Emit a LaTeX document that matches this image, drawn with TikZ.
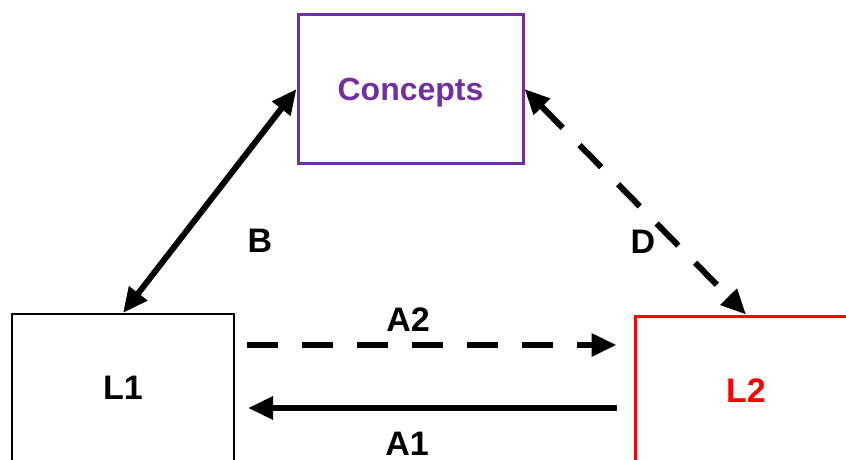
\documentclass[tikz,border=0pt]{standalone}
\usepackage{fontspec}
\setmainfont{Liberation Sans}
\usetikzlibrary{arrows.meta}
\definecolor{cpurple}{HTML}{7030A0}
\definecolor{cred}{HTML}{FF0000}
\begin{document}
\begin{tikzpicture}[x=1pt,y=-1pt,
  every node/.style={font=\fontsize{34}{40}\selectfont, text depth=0pt, inner sep=0pt},
  box/.style={draw, rectangle, minimum width=222pt},
  lbl/.style={font=\fontsize{34}{40}\selectfont\bfseries},
  conn/.style={line width=6pt, line cap=butt},
  tip/.style={-{Triangle[length=25pt,width=22pt]}},
  dtip/.style={{Triangle[length=25pt,width=22pt]}-{Triangle[length=25pt,width=22pt]}},
  dash55/.style={dash pattern=on 31pt off 24pt}]
\useasboundingbox (0,0) rectangle (846,460);
\clip (0,0) rectangle (846,460);
\node[box, draw=cpurple, line width=3pt, text=cpurple, font=\fontsize{32}{38}\selectfont\bfseries, minimum width=225pt, minimum height=148pt] (C) at (410.5,89) {Concepts};
\node[box, line width=2pt, minimum width=222pt, minimum height=148pt] (L1) at (123,388) {\bfseries L1};
\node[box, draw=cred, line width=3pt, text=cred, minimum width=222pt, minimum height=150pt] (L2) at (746,391) {\bfseries L2};
\draw[conn, dtip] (L1.north) -- (C.west);
\draw[conn, dtip, dash55] (C.east) -- (L2.north);
\draw[conn, tip, dash55] ([xshift=12pt,yshift=43pt]L1.east) -- ([xshift=-17pt,yshift=46pt]L2.west);
\draw[conn, tip] ([xshift=-17pt,yshift=-17pt]L2.west) -- ([xshift=13pt,yshift=-20pt]L1.east);
\node[lbl] (B) at (260,241) {B};
\node[lbl] (D) at (643,242) {D};
\node[lbl] (A2) at (408,320) {A2};
\node[lbl] (A1) at (407,444) {A1};
\end{tikzpicture}
\end{document}
